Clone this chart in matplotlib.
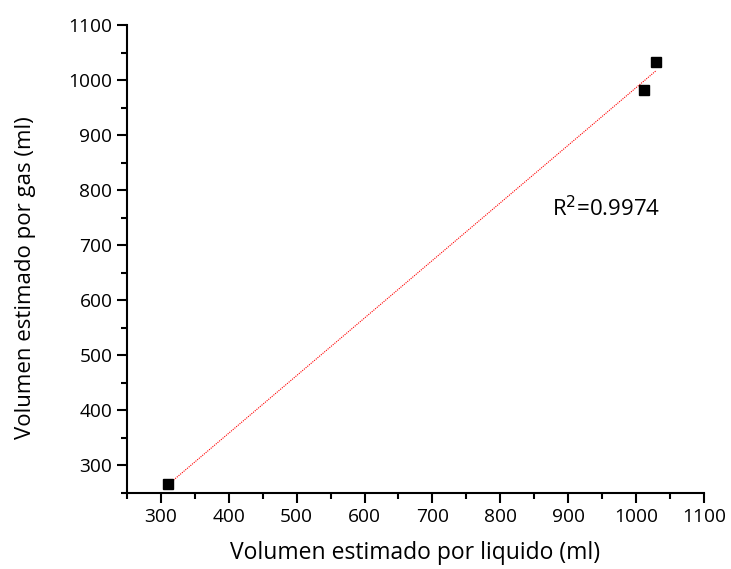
import matplotlib
matplotlib.use("Agg")
import matplotlib.pyplot as plt
import numpy as np
from matplotlib.ticker import MultipleLocator

plt.rcParams['font.family'] = ['Open Sans', 'DejaVu Sans']

x_liquido = [311, 1011, 1030]
y_gas = [266, 982, 1033]
r2_label = "R$^2$=0.9974"

fig = plt.figure(figsize=(7.31, 5.69), dpi=100)
ax = fig.add_axes([0.1737, 0.1336, 0.963 - 0.1737, 0.956 - 0.1336])

slope, intercept = np.polyfit(x_liquido, y_gas, 1)
xf = np.array([min(x_liquido), max(x_liquido)])
ax.plot(xf, slope * xf + intercept, color='red', lw=0.8, ls=(0, (1, 1)))
ax.plot(x_liquido, y_gas, 's', color='black', ms=7.5, zorder=3)

ax.set_xlim(250, 1100)
ax.set_ylim(250, 1100)
ax.set_xticks(range(300, 1101, 100))
ax.set_yticks(range(300, 1101, 100))
ax.xaxis.set_minor_locator(MultipleLocator(50))
ax.yaxis.set_minor_locator(MultipleLocator(50))

for s in ['top', 'right']:
    ax.spines[s].set_visible(False)
for s in ['left', 'bottom']:
    ax.spines[s].set_linewidth(1.5)
ax.tick_params(which='major', length=7, width=1.5, labelsize=13.8, direction='out')
ax.tick_params(which='minor', length=4, width=1.5, direction='out')

ax.set_xlabel("Volumen estimado por liquido (ml)", fontsize=16.5)
ax.set_ylabel("Volumen estimado por gas (ml)", fontsize=16)
ax.xaxis.set_label_coords(0.5, -0.102)
ax.yaxis.set_label_coords(-0.158, 0.46)
ax.text(876, 767, r2_label, fontsize=16, va='center', ha='left')

fig.savefig("out.png", dpi=100)
